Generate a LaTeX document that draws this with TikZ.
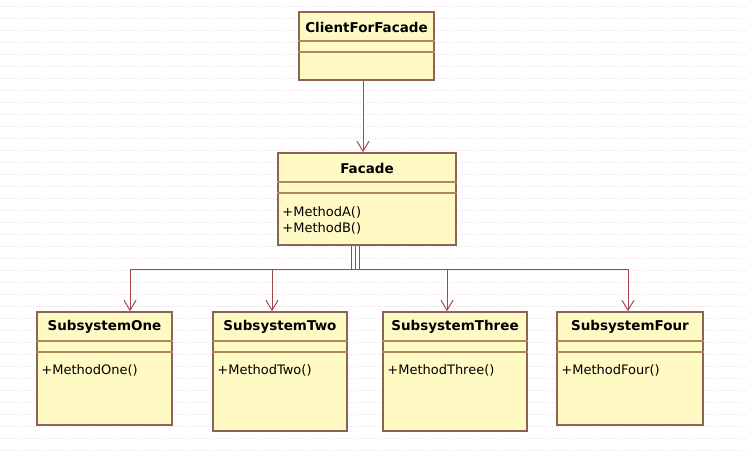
\documentclass[tikz,border=0pt]{standalone}
\usepackage{fontspec}
\setmainfont{DejaVu Sans}
\usetikzlibrary{arrows.meta}

\definecolor{umlfill}{RGB}{255,250,196}
\definecolor{umlborder}{RGB}{140,100,85}
\definecolor{umlsep}{RGB}{176,136,96}
\definecolor{umllink}{RGB}{165,70,78}
\definecolor{gridpink}{RGB}{236,212,220}

\begin{document}
\begin{tikzpicture}[x=1pt,y=1pt,
    classbox/.style={draw=umlborder,line width=1.6pt,fill=umlfill,rectangle,inner sep=0pt},
    classname/.style={font=\fontsize{13.5}{16}\selectfont\bfseries,inner sep=0pt},
    method/.style={font=\fontsize{13}{16}\selectfont,align=left,inner sep=0pt,anchor=north west},
    sep/.style={draw=umlsep,line width=1.8pt},
    link/.style={draw=umllink,line width=1pt,-{Straight Barb[length=10pt,width=12pt,line width=1pt]}}]
  \useasboundingbox (0,0) rectangle (745,-459);
  \fill[white] (0,0) rectangle (745,-459);
  % faint background grid
  \foreach \gy in {6,18,...,456}
    \draw[gridpink,line width=0.8pt,dash pattern=on 1pt off 2pt] (0,-\gy) -- (745,-\gy);

  % client and facade
  \node[classbox,minimum width=135pt,minimum height=68pt] (client) at (366.5,-46) {};
  \node[classname] (clientname) at ([yshift=-16pt]client.north) {ClientForFacade};
  \draw[sep] ([yshift=-30pt]client.north west) -- ([yshift=-30pt]client.north east);
  \draw[sep] ([yshift=-41pt]client.north west) -- ([yshift=-41pt]client.north east);

  \node[classbox,minimum width=178pt,minimum height=92pt] (facade) at (367,-199) {};
  \node[classname] (facadename) at ([yshift=-16pt]facade.north) {Facade};
  \draw[sep] ([yshift=-30pt]facade.north west) -- ([yshift=-30pt]facade.north east);
  \draw[sep] ([yshift=-41pt]facade.north west) -- ([yshift=-41pt]facade.north east);
  \node[method] (facadeops) at ([xshift=5pt,yshift=-54pt]facade.north west) {+MethodA()\\+MethodB()};

  % subsystems: name/left/right/bottom
  \foreach \sub/\xl/\xr/\yb in {One/37/172/425,Two/213/347/431,Three/383/527/431,Four/557/703/425}{
    \node[classbox,minimum width=\xr-\xl,minimum height=\yb-312] (sub\sub) at ({(\xl+\xr)/2},{-(312+\yb)/2}) {};
    \node[classname] (sub\sub name) at ([yshift=-16pt]sub\sub.north) {Subsystem\sub};
    \draw[sep] ([yshift=-30pt]sub\sub.north west) -- ([yshift=-30pt]sub\sub.north east);
    \draw[sep] ([yshift=-41pt]sub\sub.north west) -- ([yshift=-41pt]sub\sub.north east);
    \node[method] (sub\sub ops) at ([xshift=5pt,yshift=-53pt]sub\sub.north west) {+Method\sub()};
  }

  % connectors
  \draw[link] ([xshift=-3.5pt]client.south) -- ([xshift=-3.5pt]client.south |- facade.north);
  \draw[link] ([xshift=-16pt]facade.south) -- ++(0,-23.5) -| ([xshift=25.5pt]subOne.north);
  \draw[link] ([xshift=-12pt]facade.south) -- ++(0,-23.5) -| ([xshift=-8pt]subTwo.north);
  \draw[link] ([xshift=-12pt]facade.south) -- ++(0,-23.5) -| ([xshift=-8pt]subThree.north);
  \draw[link] ([xshift=-8pt]facade.south) -- ++(0,-23.5) -| ([xshift=-2pt]subFour.north);
\end{tikzpicture}
\end{document}
